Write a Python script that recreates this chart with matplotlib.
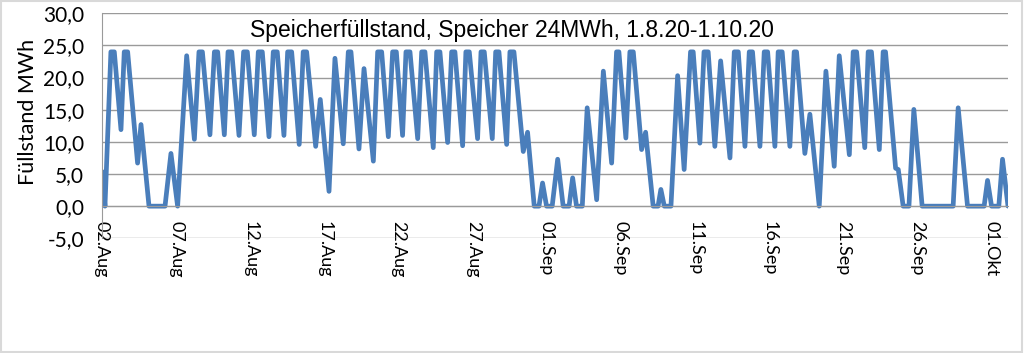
import numpy as np
import matplotlib.pyplot as plt
from matplotlib.patches import Rectangle
from matplotlib.ticker import FuncFormatter


# turning points of the fill level (days since 02.Aug, MWh)
t_days = [0.0, 0.2, 0.6, 0.83, 1.28, 1.5, 1.73, 2.4, 2.63, 3.17, 4.25, 4.65, 5.1,
          5.71, 6.23, 6.54, 6.77, 7.28, 7.58, 7.8, 8.25, 8.5, 8.75, 9.24, 9.55, 9.8,
          10.27, 10.54, 10.81, 11.26, 11.55, 11.82, 12.27, 12.52, 12.79, 13.3, 13.57,
          13.8, 14.41, 14.72, 15.31, 15.71, 16.27, 16.61, 16.79, 17.33, 17.67, 18.3,
          18.59, 18.86, 19.31, 19.6, 19.85, 20.27, 20.5, 20.77, 21.29, 21.56, 21.78,
          22.34, 22.57, 22.79, 23.31, 23.58, 23.8, 24.32, 24.54, 24.77, 25.33, 25.56,
          25.78, 26.32, 26.55, 26.77, 27.29, 27.51, 27.78, 28.41, 28.7, 29.15, 29.47,
          29.71, 29.98, 30.36, 30.73, 31.1, 31.5, 31.74, 32.0, 32.39, 32.72, 33.36,
          33.81, 34.37, 34.7, 34.86, 35.33, 35.6, 35.83, 36.39, 36.66, 37.17, 37.5,
          37.69, 37.92, 38.37, 38.82, 39.26, 39.69, 39.87, 40.32, 40.6, 40.88, 41.33,
          41.72, 42.35, 42.64, 42.91, 43.36, 43.65, 43.87, 44.37, 44.66, 44.89, 45.38,
          45.6, 45.87, 46.39, 46.68, 46.84, 47.4, 47.74, 48.37, 48.82, 49.38, 49.72,
          50.4, 50.66, 50.89, 51.44, 51.67, 51.89, 52.42, 52.68, 52.84, 53.52, 53.7,
          54.03, 54.42, 54.75, 55.31, 57.4, 57.74, 58.37, 59.49, 59.72, 59.99, 60.48,
          60.73, 61.1]
level = [5.4, 0, 24, 24, 11.9, 24, 24, 6.7, 12.7, 0, 0, 8.2, 0,
         23.4, 10.4, 24, 24, 11.1, 24, 24, 11.1, 24, 24, 11, 24, 24,
         11.1, 24, 24, 10.8, 24, 24, 11, 24, 24, 9.6, 24,
         24, 9.3, 16.6, 2.3, 23, 9.7, 24, 24, 8.9, 21.4, 7.0,
         24, 24, 10.8, 24, 24, 11, 24, 24, 10.5, 24, 24,
         9.1, 24, 24, 9.9, 24, 24, 9.4, 24, 24, 10.5, 24,
         24, 10.5, 24, 24, 9.6, 24, 24, 8.5, 11.5, 0, 0,
         3.6, 0, 0, 7.3, 0, 0, 4.4, 0, 0, 15.3, 1.0,
         21, 6.7, 24, 24, 10.6, 24, 24, 8.8, 11.5, 0, 0,
         2.6, 0, 0, 20.3, 5.7, 24, 24, 9.8, 24, 24, 9.3,
         22.6, 7.5, 24, 24, 9.3, 24, 24, 9.3, 24, 24, 9.3,
         24, 24, 9.3, 24, 24, 8.2, 14.3, 0, 21, 6.2, 23.4,
         8, 24, 24, 9.1, 24, 24, 8.8, 24, 24, 5.9, 5.7,
         0, 0, 15.05, 0, 0, 15.3, 0, 0, 4, 0, 0,
         7.3, 0]

tick_days = [0, 5, 10, 15, 20, 25, 30, 35, 40, 45, 50, 55, 60]
tick_labels = ['02.Aug', '07.Aug', '12.Aug', '17.Aug', '22.Aug', '27.Aug', '01.Sep',
               '06.Sep', '11.Sep', '16.Sep', '21.Sep', '26.Sep', '01.Okt']

title = 'Speicherfüllstand, Speicher 24MWh, 1.8.20-1.10.20'


def main():

    plt.rcParams['font.family'] = ['Lato', 'DejaVu Sans']

    fig = plt.figure(figsize=(10.24, 3.53), dpi=100)
    ax = fig.add_axes([102/1024, 1-238.3/353, 906/1024, 225/353])

    ax.plot(t_days, level, color='#4a7ebb', lw=3.4,
            solid_joinstyle='round', solid_capstyle='round')

    ax.set_xlim(0, t_days[-1])
    ax.set_ylim(-5, 30)
    ax.set_yticks(np.arange(-5, 31, 5))
    ax.yaxis.set_major_formatter(FuncFormatter(lambda v, p: f'{v:.1f}'.replace('.', ',')))
    ax.grid(axis='y', color='#9a9a9a', lw=1.0)
    ax.set_axisbelow(True)

    ax.set_xticks(tick_days)
    ax.set_xticklabels(tick_labels)
    ax.tick_params(axis='x', length=0, pad=11, labelrotation=-90, labelsize=13)
    ax.tick_params(axis='y', length=0, pad=13, labelsize=15)
    for lab in ax.get_xticklabels():
        lab.set_family('Liberation Sans')
        lab.set_va('top')
        lab.set_ha('center')

    for s in ['top', 'right']:
        ax.spines[s].set_visible(False)
    ax.spines['bottom'].set_position(('data', 0))
    ax.spines['bottom'].set_color('#9a9a9a')
    ax.spines['left'].set_color('#9a9a9a')

    ax.set_ylabel('Füllstand MWh', fontsize=15.5)
    ax.yaxis.set_label_coords(-64/906, 0.56)

    fig.text(0.5, 1-30/353, title, ha='center', va='center',
             family='Liberation Sans', fontsize=16.5)

    fig.patches.append(Rectangle((0.001, 0.002), 0.997, 0.995, transform=fig.transFigure,
                                 fill=False, edgecolor='#d9d9d9', lw=1.5))

    fig.savefig('out.png', dpi=100)


if __name__ == "__main__":
    main()
